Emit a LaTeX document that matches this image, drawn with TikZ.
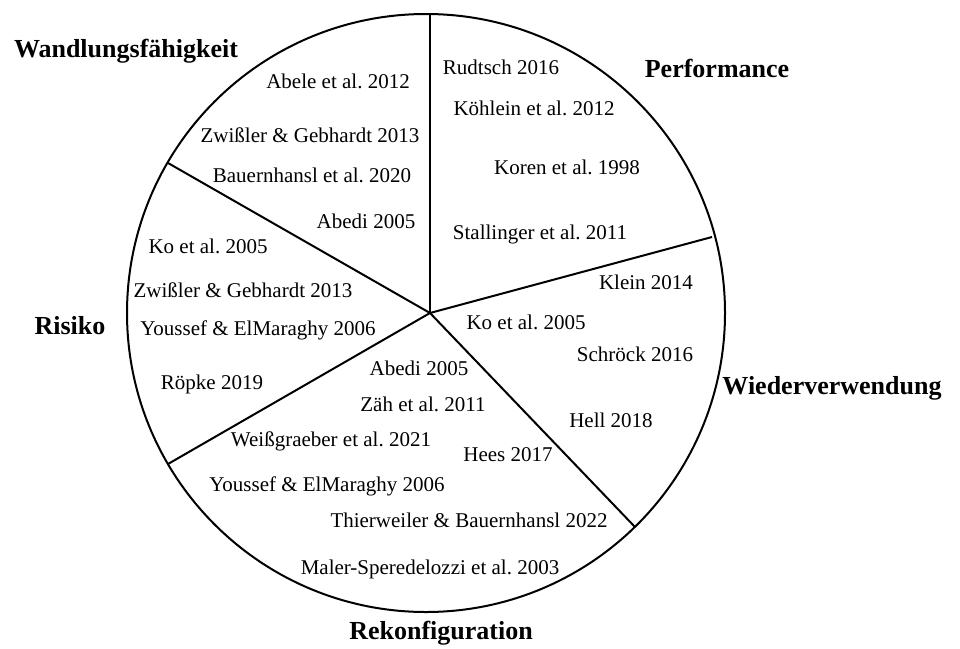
\documentclass[tikz,border=0pt]{standalone}
\usepackage{fontspec}
\setmainfont{Liberation Serif}
\frenchspacing
\begin{document}
\begin{tikzpicture}[x=1pt,y=-1pt,
    lit/.style={font=\fontsize{21}{25}\selectfont, anchor=base, inner sep=0pt},
    field/.style={font=\fontsize{26}{30}\selectfont\bfseries, anchor=base, inner sep=0pt}]
  \useasboundingbox (0,0) rectangle (960,648);
  \draw[line width=2pt] (426,313) circle (299);
  \draw
    (430,313) coordinate (c)
    (430,13) coordinate (s1)
    (712,237) coordinate (s2)
    (635,527) coordinate (s3)
    (168,464) coordinate (s4)
    (168,163) coordinate (s5);
  \begin{scope}[line width=2pt]
    \draw (c) to (s1);
    \draw (c) to (s2);
    \draw (c) to (s3);
    \draw (c) to (s4);
    \draw (c) to (s5);
  \end{scope}
  % fields
  \node[field] (wand) at (126,57) {Wandlungsfähigkeit};
  \node[field] (perf) at (717,77) {Performance};
  \node[field] (wied) at (832,394) {Wiederverwendung};
  \node[field] (reko) at (441,639) {Rekonfiguration};
  \node[field] (risk) at (70,334) {Risiko};
  % Wandlungsfaehigkeit
  \node[lit] (w1) at (338,88) {Abele et al. 2012};
  \node[lit] (w2) at (310,142) {Zwißler \& Gebhardt 2013};
  \node[lit] (w3) at (312,182) {Bauernhansl et al. 2020};
  \node[lit] (w4) at (366,228) {Abedi 2005};
  % Performance
  \node[lit] (p1) at (501,74) {Rudtsch 2016};
  \node[lit] (p2) at (534,115) {Köhlein et al. 2012};
  \node[lit] (p3) at (567,174) {Koren et al. 1998};
  \node[lit] (p4) at (540,239) {Stallinger et al. 2011};
  % Wiederverwendung
  \node[lit] (v1) at (646,289) {Klein 2014};
  \node[lit] (v2) at (526,329) {Ko et al. 2005};
  \node[lit] (v3) at (635,361) {Schröck 2016};
  \node[lit] (v4) at (611,427) {Hell 2018};
  % Rekonfiguration
  \node[lit] (k1) at (419,375) {Abedi 2005};
  \node[lit] (k2) at (423,411) {Zäh et al. 2011};
  \node[lit] (k3) at (331,446) {Weißgraeber et al. 2021};
  \node[lit] (k4) at (508,461) {Hees 2017};
  \node[lit] (k5) at (327,491) {Youssef \& ElMaraghy 2006};
  \node[lit] (k6) at (469,527) {Thierweiler \& Bauernhansl 2022};
  \node[lit] (k7) at (430,574) {Maler-Speredelozzi et al. 2003};
  % Risiko
  \node[lit] (r1) at (208,253) {Ko et al. 2005};
  \node[lit] (r2) at (243,297) {Zwißler \& Gebhardt 2013};
  \node[lit] (r3) at (258,335) {Youssef \& ElMaraghy 2006};
  \node[lit] (r4) at (212,389) {Röpke 2019};
\end{tikzpicture}
\end{document}
